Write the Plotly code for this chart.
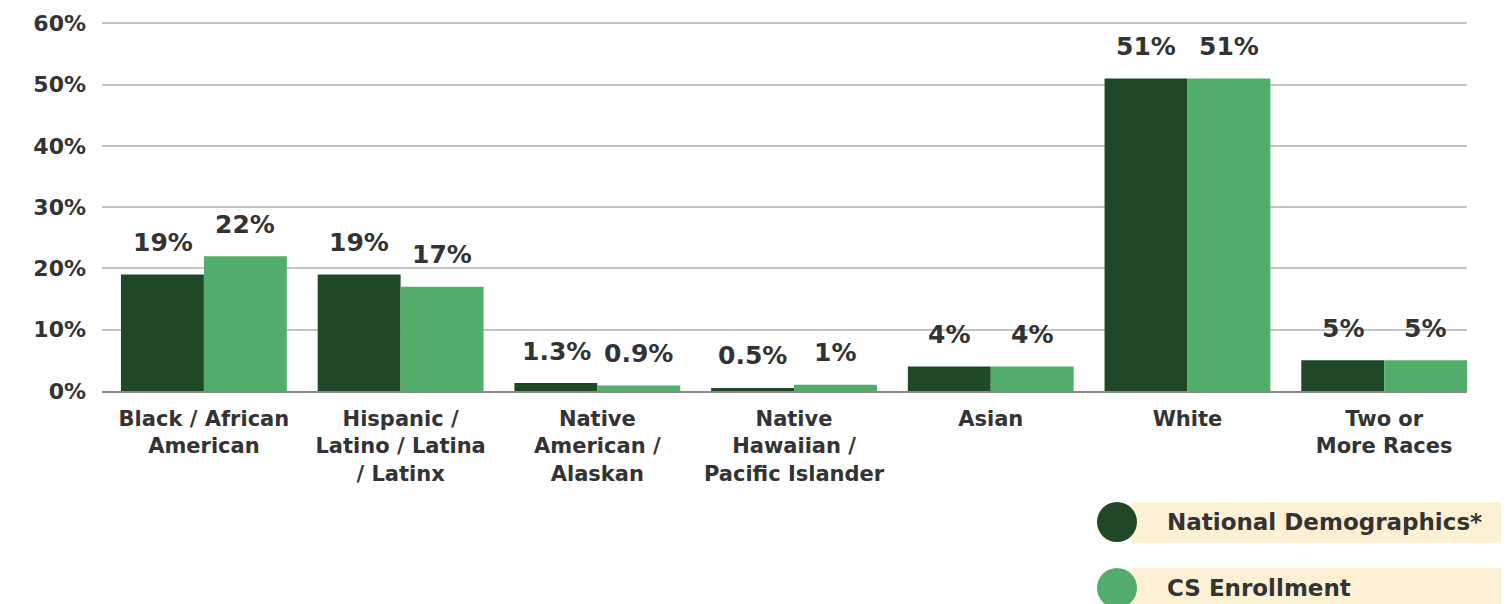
import plotly.graph_objects as go

# Colours
DARK = "#1f4826"
LIGHT = "#52ad6b"
CREAM = "#fdf1d5"
TEXT = "#333333"
GRID = "#c4c4c4"
FONT = "DejaVu Sans"

categories = ["Black / African<br>American", "Hispanic /<br>Latino / Latina<br>/ Latinx",
              "Native<br>American /<br>Alaskan", "Native<br>Hawaiian /<br>Pacific Islander",
              "Asian", "White", "Two or<br>More Races"]
national = [19, 19, 1.3, 0.5, 4, 51, 5]
cs_enroll = [22, 17, 0.9, 1, 4, 51, 5]
national_lbl = ["19%", "19%", "1.3%", "0.5%", "4%", "51%", "5%"]
cs_lbl = ["22%", "17%", "0.9%", "1%", "4%", "51%", "5%"]
series_names = ["National Demographics*", "CS Enrollment"]
yticks = [0, 10, 20, 30, 40, 50, 60]

xs = list(range(len(categories)))

fig = go.Figure()
fig.add_trace(go.Bar(x=xs, y=national, name=series_names[0], marker_color=DARK,
                     marker_line_width=0, showlegend=False))
fig.add_trace(go.Bar(x=xs, y=cs_enroll, name=series_names[1], marker_color=LIGHT,
                     marker_line_width=0, showlegend=False))

ann = []
for i in xs:
    for off, v, t in ((-0.21, national[i], national_lbl[i]), (0.21, cs_enroll[i], cs_lbl[i])):
        ann.append(dict(x=i + off, y=v, xref="x", yref="y", text=t, showarrow=False,
                        yanchor="middle", yshift=32,
                        font=dict(family=FONT, size=25, color=TEXT, weight="bold")))

# Legend (drawn manually: circle + cream band); coords are page pixels
PX0, PW, PY0, PH = 102, 1365, 391, 369
def px(x): return (x - PX0) / PW
def py(y): return (PY0 - y) / PH

shapes = []
for row, (name, col) in enumerate(zip(series_names, [DARK, LIGHT])):
    cy = 522 + row * 66
    shapes.append(dict(type="rect", xref="paper", yref="paper", layer="below",
                       x0=px(1132), x1=px(1515), y0=py(cy - 20), y1=py(cy + 21),
                       fillcolor=CREAM, line_width=0))
    shapes.append(dict(type="circle", xref="paper", yref="paper",
                       x0=px(1097), x1=px(1137), y0=py(cy - 20), y1=py(cy + 20),
                       fillcolor=col, line_width=0))
    ann.append(dict(x=px(1165), y=py(cy), xref="paper", yref="paper", text=name,
                    showarrow=False, xanchor="left", yanchor="middle",
                    font=dict(family=FONT, size=23, color=TEXT, weight="bold")))

# page body has an 8px margin, so the figure is 8px smaller than the window
fig.update_layout(
    width=1501, height=596,
    paper_bgcolor="white", plot_bgcolor="white",
    margin=dict(l=94, r=42, t=14, b=213),
    barmode="group", bargap=0.157, bargroupgap=0,
    font=dict(family=FONT, color=TEXT),
    annotations=ann, shapes=shapes,
    xaxis=dict(tickmode="array", tickvals=xs, ticktext=categories,
               range=[-0.518, 6.421], showgrid=False, zeroline=False,
               showline=True, linecolor="#888888", linewidth=1.5, automargin=False,
               tickfont=dict(family=FONT, size=21, color=TEXT, weight="bold"),
               ticks="", ticklabelstandoff=8),
    yaxis=dict(range=[0, 60.2], tickvals=yticks, ticktext=[f"{v}%" for v in yticks],
               showgrid=True, gridcolor=GRID, gridwidth=1.5, zeroline=False,
               automargin=False,
               tickfont=dict(family=FONT, size=22, color=TEXT, weight="bold"),
               ticks="", ticklabelstandoff=15),
)

fig.write_html("out.html")
